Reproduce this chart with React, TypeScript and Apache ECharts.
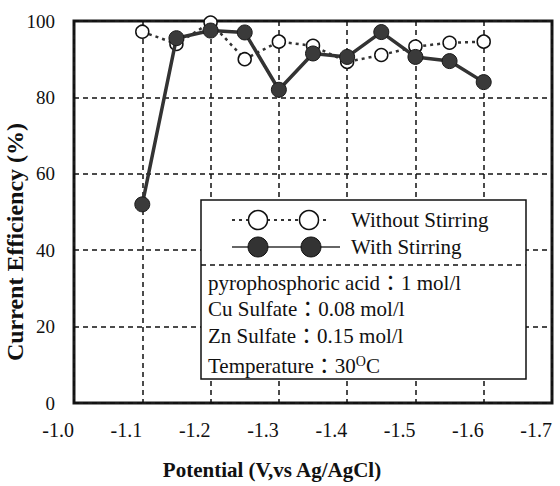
import React, { useEffect, useRef } from "react";
import * as echarts from "echarts";

const potentials = [-1.1, -1.15, -1.2, -1.25, -1.3, -1.35, -1.4, -1.45, -1.5, -1.55, -1.6];
const withoutStirring = [97.2, 94, 99.6, 90, 94.6, 93.5, 89.3, 91.1, 93.3, 94.3, 94.6];
const withStirring = [52, 95.5, 97.5, 97, 82, 91.5, 90.6, 97.1, 90.6, 89.5, 84];
const seriesNames = ["Without Stirring", "With Stirring"];
const infoLines = [
  "pyrophosphoric acid\uFF1A1 mol/l",
  "Cu Sulfate\uFF1A0.08 mol/l",
  "Zn Sulfate\uFF1A0.15 mol/l",
];
const tempLine = "Temperature\uFF1A30{sup|O}C";

const FONT = "'Liberation Serif', 'Times New Roman', 'Noto Sans CJK JP', serif";

export default function App() {
  const ref = useRef<HTMLDivElement>(null);
  useEffect(() => {
    if (!ref.current) return;
    const chart = echarts.init(ref.current, undefined, { renderer: "svg" });
    const openData = potentials.map((p, i) => [p, withoutStirring[i]]);
    const filledData = potentials.map((p, i) => [p, withStirring[i]]);
    const bx = 201, by = 200, bw = 325, bh = 179;
    const Z = 100;
    const txt = (text: string, x: number, y: number, size: number, extra: any = {}) => ({
      type: "text",
      z: Z + 2,
      x,
      y,
      style: { text, fontFamily: FONT, fontSize: size, fill: "#111", verticalAlign: "middle", ...extra },
    });
    chart.setOption({
      animation: false,
      backgroundColor: "#fff",
      grid: {
        left: 74,
        right: 8,
        top: 21,
        bottom: 83,
        containLabel: false,
        outerBoundsMode: "none",
        show: true,
        borderColor: "#1a1a1a",
        borderWidth: 3,
        backgroundColor: "transparent",
      },
      xAxis: {
        type: "value",
        inverse: true,
        min: -1.7,
        max: -1.0,
        interval: 0.1,
        name: "Potential (V,vs Ag/AgCl)",
        nameLocation: "middle",
        nameGap: 56,
        nameMoveOverlap: false,
        nameTextStyle: {
          fontFamily: FONT,
          fontWeight: "bold",
          fontSize: 21,
          color: "#111",
          padding: [0, 82, 0, 0],
        },
        axisLine: { show: false },
        axisTick: { show: false },
        axisLabel: {
          fontFamily: FONT,
          fontSize: 20,
          color: "#111",
          margin: 17,
          align: "right",
          formatter: (v: number) => v.toFixed(1),
        },
        splitLine: {
          show: true,
          lineStyle: { color: "#111", width: 1.5, type: [5, 4] },
        },
      },
      yAxis: {
        type: "value",
        min: 0,
        max: 100,
        interval: 20,
        name: "Current Efficiency (%)",
        nameLocation: "middle",
        nameGap: 47,
        nameMoveOverlap: false,
        nameTextStyle: {
          fontFamily: FONT,
          fontWeight: "bold",
          fontSize: 24,
          color: "#111",
          padding: [0, 60, 0, 0],
        },
        axisLine: { show: false },
        axisTick: { show: false },
        axisLabel: {
          fontFamily: FONT,
          fontSize: 19,
          color: "#111",
          margin: 19,
        },
        splitLine: {
          show: true,
          lineStyle: { color: "#111", width: 1.5, type: [5, 4] },
        },
      },
      series: [
        {
          name: seriesNames[0],
          type: "line",
          data: openData,
          symbol: "circle",
          symbolSize: 13,
          z: 3,
          lineStyle: { color: "#333", width: 2.5, type: [3, 4] },
          itemStyle: { color: "#fff", borderColor: "#111", borderWidth: 1.5 },
        },
        {
          name: seriesNames[1],
          type: "line",
          data: filledData,
          symbol: "circle",
          symbolSize: 15,
          z: 4,
          lineStyle: { color: "#333", width: 3.5 },
          itemStyle: { color: "#3a3a3a", borderColor: "#1a1a1a", borderWidth: 1 },
        },
      ],
      graphic: [
        {
          type: "rect",
          z: Z,
          shape: { x: bx, y: by, width: bw, height: bh },
          style: { fill: "#fff", stroke: "#111", lineWidth: 1.5 },
        },
        {
          type: "line",
          z: Z + 1,
          shape: { x1: bx, y1: 265, x2: bx + bw, y2: 265 },
          style: { stroke: "#111", lineWidth: 1.5, lineDash: [5, 4] },
        },
        {
          type: "line",
          z: Z + 1,
          shape: { x1: 232, y1: 220, x2: 326, y2: 220 },
          style: { stroke: "#333", lineWidth: 2, lineDash: [3, 4] },
        },
        { type: "circle", z: Z + 2, shape: { cx: 258, cy: 220, r: 9.5 }, style: { fill: "#fff", stroke: "#111", lineWidth: 1.5 } },
        { type: "circle", z: Z + 2, shape: { cx: 309, cy: 220, r: 9.5 }, style: { fill: "#fff", stroke: "#111", lineWidth: 1.5 } },
        {
          type: "line",
          z: Z + 1,
          shape: { x1: 232, y1: 247, x2: 340, y2: 247 },
          style: { stroke: "#333", lineWidth: 1.5 },
        },
        { type: "circle", z: Z + 2, shape: { cx: 258, cy: 247, r: 10 }, style: { fill: "#333", stroke: "#111", lineWidth: 1 } },
        { type: "circle", z: Z + 2, shape: { cx: 311, cy: 247, r: 10 }, style: { fill: "#333", stroke: "#111", lineWidth: 1 } },
        txt(seriesNames[0], 351, 220, 21),
        txt(seriesNames[1], 351, 247, 21),
        ...infoLines.map((t, i) => txt(t, 208, [283, 309, 336][i], 21)),
        txt(tempLine, 208, 366, 21, {
          rich: {
            sup: { fontFamily: FONT, fontSize: 14, fill: "#111", verticalAlign: "top", padding: [0, 0, 10, 0] },
          },
        }),
      ],
    });
    return () => chart.dispose();
  }, []);
  return (
    <div
      ref={ref}
      style={{ position: "fixed", left: 0, top: 0, width: 560, height: 486, background: "#fff" }}
    />
  );
}
